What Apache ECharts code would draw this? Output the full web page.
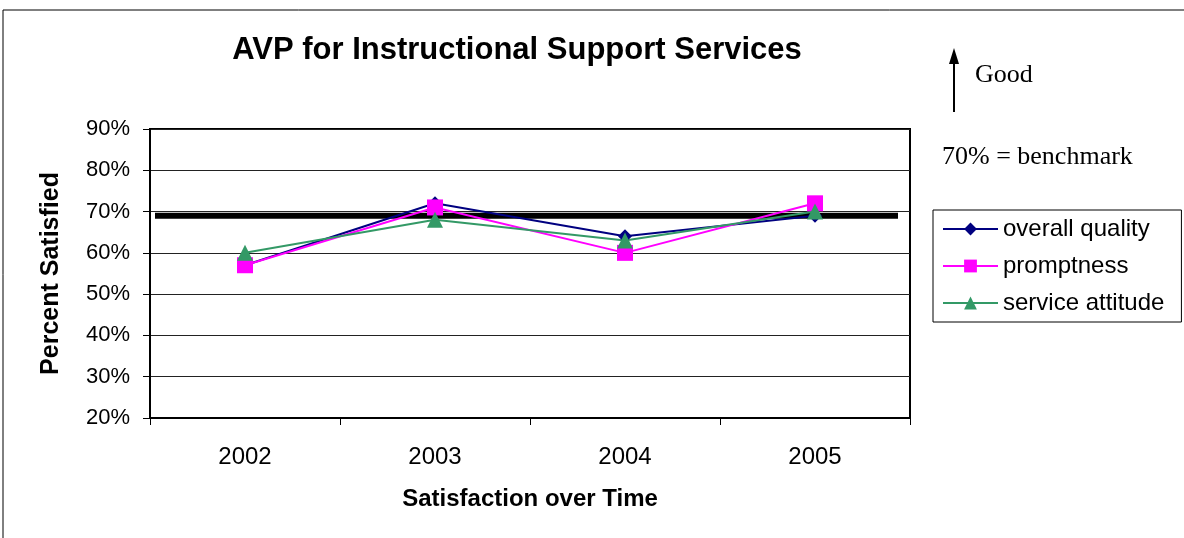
<!DOCTYPE html>
<html><head><meta charset="utf-8">
<script src="https://cdn.jsdelivr.net/npm/echarts@6/dist/echarts.min.js"></script>
<style>html,body{margin:0;padding:0;background:#fff}#c{width:1184px;height:538px}</style>
</head><body><div id="c"></div>
<script>
const years = ['2002','2003','2004','2005'];
const overallQuality = [57, 72, 64, 69];
const promptness = [57, 71, 60, 72];
const serviceAttitude = [60, 68, 63, 70];
const benchmark = 69;
const yTicks = [20, 30, 40, 50, 60, 70, 80, 90];

const chart = echarts.init(document.getElementById('c'));
const font = 'Arial, "Liberation Sans", sans-serif';
const serif = '"Times New Roman", "Liberation Serif", serif';
function mk(name, data, color, symbol, size) {
  return {name, type:'line', data, symbol, symbolSize:size, showSymbol:true,
    lineStyle:{color, width:2}, itemStyle:{color, borderWidth:0}, z:3, animation:false};
}
chart.setOption({
  animation:false,
  title:{text:'AVP for Instructional Support Services', left:512, top:30, textAlign:'center',
    textStyle:{fontFamily:font, fontWeight:'bold', fontSize:31, color:'#000'}},
  grid:{left:150, top:129, width:760, height:289, show:true, borderColor:'#000', borderWidth:2, backgroundColor:'transparent'},
  legend:{left:933, top:210, orient:'vertical', itemWidth:55, itemHeight:16, itemGap:13,
    padding:[7,17,7,9], borderColor:'#000', borderWidth:1,
    textStyle:{fontFamily:font, fontSize:24, color:'#000'},
    data:['overall quality','promptness','service attitude']},
  xAxis:{type:'category', data:years, boundaryGap:true,
    axisLine:{lineStyle:{color:'#000', width:2}},
    axisTick:{show:true, length:7, lineStyle:{color:'#000'}},
    axisLabel:{fontFamily:font, fontSize:24, color:'#000', margin:27},
    name:'Satisfaction over Time', nameLocation:'middle', nameGap:69,
    nameTextStyle:{fontFamily:font, fontWeight:'bold', fontSize:24, color:'#000'}},
  yAxis:{type:'value', min:yTicks[0], max:yTicks[yTicks.length-1], interval:10,
    axisLine:{show:true, lineStyle:{color:'#000', width:2}},
    axisTick:{show:true, length:7, lineStyle:{color:'#000'}},
    splitLine:{lineStyle:{color:'#222', width:1}},
    axisLabel:{fontFamily:font, fontSize:22, color:'#000', formatter:'{value}%', margin:20},
    name:'Percent Satisfied', nameLocation:'middle', nameGap:86, nameRotate:90,
    nameTextStyle:{fontFamily:font, fontWeight:'bold', fontSize:25, color:'#000'}},
  series:[
    mk('overall quality', overallQuality, '#000080', 'diamond', 14),
    mk('promptness', promptness, '#FF00FF', 'rect', 16),
    mk('service attitude', serviceAttitude, '#339966', 'triangle', 16)
  ]
});
const by = chart.convertToPixel({yAxisIndex:0}, benchmark);
chart.setOption({
  graphic:[
    {type:'rect', shape:{x:3, y:10, width:1300, height:700}, style:{fill:null, stroke:'#000', lineWidth:1}, silent:true},
    {type:'line', shape:{x1:155, y1:by, x2:898, y2:by}, style:{stroke:'#000', lineWidth:6}, z:2},
    {type:'line', shape:{x1:954, y1:112, x2:954, y2:60}, style:{stroke:'#000', lineWidth:2}},
    {type:'polygon', shape:{points:[[949,64],[959,64],[954,48]]}, style:{fill:'#000'}},
    {type:'text', x:975, y:75, style:{text:'Good', fontFamily:serif, fontSize:26, fill:'#000', verticalAlign:'middle'}},
    {type:'text', x:942, y:157, style:{text:'70% = benchmark', fontFamily:serif, fontSize:26, fill:'#000', verticalAlign:'middle'}}
  ]
});
</script></body></html>
